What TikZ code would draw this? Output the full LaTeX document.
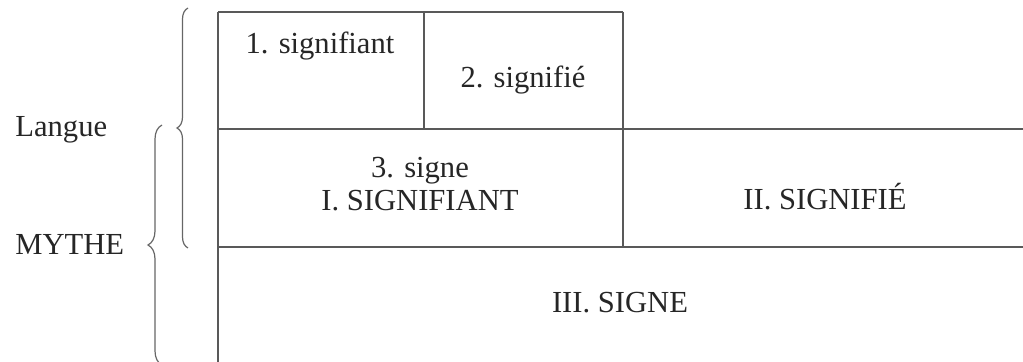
\documentclass[tikz,border=0pt]{standalone}
\usepackage{fontspec}
\setmainfont{Liberation Serif}
\usepackage{tikz}
\usetikzlibrary{positioning,calc,decorations.pathreplacing}
\tikzset{
    treetext/.style={align=center, inner sep=0pt, text=black!85},
    % Cell text
    cell_txt/.style = {treetext, anchor=base, font=\fontsize{15.3}{18}\selectfont},
    % Side label
    side_lbl/.style = {treetext, anchor=base west, font=\fontsize{15.3}{18}\selectfont},
    % Grid lines
    grid_line/.style = {draw=black!65, line width=1pt},
    % Braces
    brace_line/.style = {draw=black!60, line width=0.6pt, decorate}
}

\begin{document}
\begin{tikzpicture}[x=0.5pt, y=-0.5pt]
    \useasboundingbox (0,0) rectangle (1023,362);

        % corners of the grid
        \coordinate (tl) at (218,12);
        \coordinate (tm) at (424,12);
        \coordinate (tr) at (623,12);
        \coordinate (ml) at (218,129);
        \coordinate (mm) at (424,129);
        \coordinate (mr) at (623,129);
        \coordinate (me) at (1023,129);
        \coordinate (bl) at (218,247);
        \coordinate (bm) at (623,247);
        \coordinate (be) at (1023,247);
        \coordinate (el) at (218,362);

        \draw[grid_line] (tl) -- (tr);
        \draw[grid_line] (tl) -- (el);
        \draw[grid_line] (tm) -- (mm);
        \draw[grid_line] (tr) -- (bm);
        \draw[grid_line] (ml) -- (me);
        \draw[grid_line] (bl) -- (be);

        \node[cell_txt] (sa1) at (320,54) {1. signifiant};
        \node[cell_txt] (se2) at (523,88) {2. signifié};
        \node[cell_txt] (sg3) at (420,178) {3. signe};
        \node[cell_txt] (SA1) at (420,211) {I. SIGNIFIANT};
        \node[cell_txt] (SE2) at (825,210) {II. SIGNIFIÉ};
        \node[cell_txt] (SG3) at (620,313) {III. SIGNE};

        \node[side_lbl] (langue) at (15,137) {Langue};
        \node[side_lbl] (mythe) at (15,255) {MYTHE};

        % braces
        \coordinate (lb_bot) at (188,248);
        \coordinate (lb_top) at (188,8);
        \coordinate (mb_bot) at (162,365);
        \coordinate (mb_top) at (162,125);
        \draw[brace_line, decoration={brace, amplitude=5.5pt}] (lb_bot) -- (lb_top);
        \draw[brace_line, decoration={brace, amplitude=7pt}] (mb_bot) -- (mb_top);
    \end{tikzpicture}
\end{document}
